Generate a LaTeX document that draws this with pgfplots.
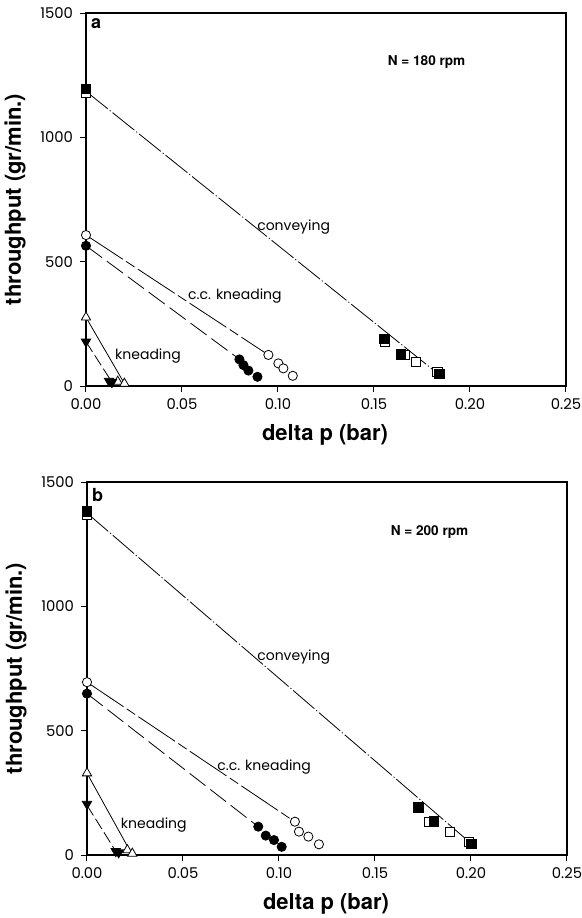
\documentclass[border=0pt]{standalone}
\usepackage{fontspec}
\setmainfont{TeX Gyre Heros}
\newfontfamily\geo{Poppins}
\usepackage{pgfplots}
\pgfplotsset{compat=1.18}

\pgfplotsset{
  panel/.style={
    width=240pt, height=186.5pt, scale only axis,
    xmin=0, xmax=0.25, ymin=0, ymax=1500,
    clip=false,
    xtick={0,0.05,0.10,0.15,0.20,0.25},
    ytick={0,500,1000,1500},
    xtick pos=left, ytick pos=left,
    tick align=outside, major tick length=3pt,
    tick style={black, line width=0.5pt},
    axis line style={line width=1pt},
    /pgf/number format/assume math mode=true,
    /pgf/number format/1000 sep={},
    xticklabel style={/pgf/number format/fixed, /pgf/number format/fixed zerofill,
      /pgf/number format/precision=2},
    tick label style={font=\geo\fontsize{7.4}{8}\selectfont},
    xlabel={delta p (bar)},
    ylabel={throughput (gr/min.)},
    label style={font=\fontsize{11}{13}\selectfont\bfseries},
    xlabel style={at={(axis description cs:0.498,-0.131)}, anchor=center},
    ylabel style={at={(axis description cs:-0.148,0.5)}, anchor=center},
  },
}
\tikzset{
  fitline/.style={black, line width=0.4pt},
  conv/.style={fitline, dash pattern=on 14pt off 1.2pt on 0.6pt off 1.2pt},
  ccopen/.style={fitline, dash pattern=on 22pt off 2pt on 5pt off 2pt},
  ccfill/.style={fitline, dash pattern=on 10pt off 3pt},
  knopen/.style={fitline},
  knfill/.style={fitline, dash pattern=on 6pt off 2pt},
  sqf/.style={only marks, mark=square*, mark size=2.4pt, mark options={black, fill=black}},
  sqo/.style={only marks, mark=square*, mark size=2.3pt, mark options={black, fill=white, line width=0.4pt}},
  cif/.style={only marks, mark=*, mark size=2.3pt, mark options={black, fill=black}},
  cio/.style={only marks, mark=*, mark size=2.3pt, mark options={black, fill=white, line width=0.4pt}},
  trf/.style={only marks, mark=triangle*, mark size=2.7pt, mark options={black, fill=black, rotate=180}},
  tro/.style={only marks, mark=triangle*, mark size=2.7pt, mark options={black, fill=white, line width=0.4pt}},
  lbl/.style={font=\geo\fontsize{7}{8}\selectfont, inner sep=0pt, anchor=west},
  rpm/.style={font=\fontsize{6.8}{8}\selectfont\bfseries, inner sep=0pt, anchor=west},
  tag/.style={font=\fontsize{9}{10}\selectfont\bfseries, inner sep=0pt, anchor=north west},
}

\begin{document}
\begin{tikzpicture}
\useasboundingbox (-43pt,-266pt) rectangle (248pt,193pt);

% panel a, N = 180 rpm
\begin{axis}[panel, at={(0pt,0pt)}, anchor=south west]
\addplot[conv, no marks] coordinates {(0,1185) (0.184,45)};
\addplot[ccopen, no marks] coordinates {(0,607) (0.095,125)};
\addplot[ccfill, no marks] coordinates {(0,564) (0.080,107)};
\addplot[knopen, no marks] coordinates {(0,276) (0.020,10)};
\addplot[knfill, no marks] coordinates {(0,178) (0.0134,17)};
\addplot[sqo] coordinates {(0,1180) (0.1557,178) (0.1661,126) (0.1717,98) (0.183,58)};
\addplot[sqf] coordinates {(0,1195) (0.1554,190) (0.164,128) (0.184,48)};
\addplot[cio] coordinates {(0,607) (0.095,125) (0.1002,91) (0.1028,71) (0.1077,41)};
\addplot[cif] coordinates {(0,564) (0.0799,107) (0.082,84) (0.0846,62) (0.0893,37)};
\addplot[tro] coordinates {(0,276) (0.0165,18) (0.020,10)};
\addplot[trf] coordinates {(0,178) (0.012,20) (0.0135,15)};
\node[lbl] at (axis cs:0.089,640) {conveying};
\node[lbl] at (axis cs:0.053,360) {c.c. kneading};
\node[lbl] at (axis cs:0.015,120) {kneading};
\node[rpm] at (axis cs:0.157,1302) {N = 180 rpm};
\node[tag] at (axis description cs:0.01,0.985) {a};
\end{axis}

% panel b, N = 200 rpm
\begin{axis}[panel, at={(0.5pt,-234.5pt)}, anchor=south west]
\addplot[conv, no marks] coordinates {(0,1375) (0.201,40)};
\addplot[ccopen, no marks] coordinates {(0,695) (0.108,135)};
\addplot[ccfill, no marks] coordinates {(0,649) (0.089,115)};
\addplot[knopen, no marks] coordinates {(0,329) (0.023,8)};
\addplot[knfill, no marks] coordinates {(0,200) (0.015,15)};
\addplot[sqo] coordinates {(0,1370) (0.178,134) (0.189,94) (0.199,54)};
\addplot[sqf] coordinates {(0,1382) (0.1726,192) (0.1807,134) (0.2003,44)};
\addplot[cio] coordinates {(0,695) (0.1083,134) (0.1104,94) (0.1153,74) (0.1208,43)};
\addplot[cif] coordinates {(0,649) (0.0892,114) (0.0931,78) (0.0974,60) (0.1014,33)};
\addplot[tro] coordinates {(0,329) (0.021,20) (0.0236,6)};
\addplot[trf] coordinates {(0,205) (0.0150,15) (0.0165,10)};
\node[lbl] at (axis cs:0.0885,798) {conveying};
\node[lbl] at (axis cs:0.0677,353) {c.c. kneading};
\node[lbl] at (axis cs:0.0175,121) {kneading};
\node[rpm] at (axis cs:0.158,1300) {N = 200 rpm};
\node[tag] at (axis description cs:0.01,0.985) {b};
\end{axis}
\end{tikzpicture}
\end{document}
